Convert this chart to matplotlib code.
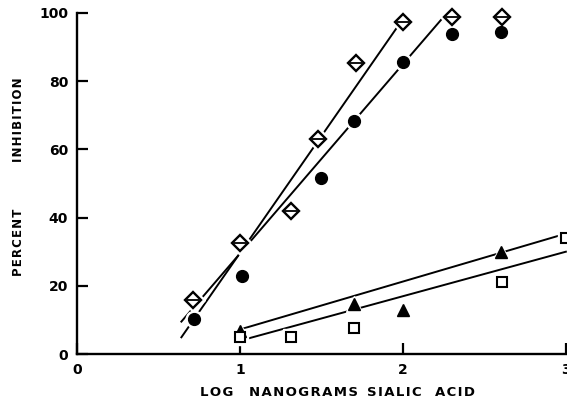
import matplotlib
matplotlib.use("Agg")
import matplotlib.pyplot as plt

# measured points: log ng sialic acid vs percent inhibition
diamond_x = [0.71, 1.00, 1.31, 1.48, 1.71, 2.00, 2.30, 2.61]
diamond_y = [15.8, 32.5, 41.8, 63.0, 85.4, 97.5, 98.8, 98.8]

circle_x = [0.72, 1.01, 1.50, 1.70, 2.00, 2.30, 2.60]
circle_y = [10.2, 23.0, 51.7, 68.4, 85.5, 93.8, 94.5]

triangle_x = [1.00, 1.70, 2.00, 2.60]
triangle_y = [6.7, 14.6, 12.9, 29.8]

square_x = [1.00, 1.31, 1.70, 2.61, 3.00]
square_y = [5.0, 5.0, 7.6, 21.0, 34.0]

# fitted lines (end points)
diamond_fit_x = [0.64, 1.97]
diamond_fit_y = [4.9, 96.2]
circle_fit_x = [0.64, 2.27]
circle_fit_y = [9.5, 100.0]
triangle_fit_x = [1.00, 3.00]
triangle_fit_y = [7.2, 35.3]
square_fit_x = [1.00, 3.00]
square_fit_y = [3.9, 30.0]

x_ticks = [0, 1, 2, 3]
y_ticks = [0, 20, 40, 60, 80, 100]

x_label_words = ["LOG", "NANOGRAMS", "SIALIC", "ACID"]
y_label_words = ["PERCENT", "INHIBITION"]

plt.rcParams["font.family"] = ["DejaVu Sans"]
plt.rcParams["font.weight"] = "bold"


def spaced(word):
    # hair spaces between letters for the wide lettering
    return "\u200a".join(word)


fig = plt.figure(figsize=(5.67, 4.0), dpi=100)
ax = fig.add_axes([0.136, 0.115, 0.862, 0.8525])

for fx, fy in [(diamond_fit_x, diamond_fit_y), (circle_fit_x, circle_fit_y),
               (triangle_fit_x, triangle_fit_y), (square_fit_x, square_fit_y)]:
    ax.plot(fx, fy, color="black", lw=1.4, zorder=2, clip_on=False)

# white halos break the lines around each symbol
halo = dict(ls="none", color="white", zorder=3, clip_on=False)
ax.plot(diamond_x, diamond_y, marker="D", ms=12, **halo)
ax.plot(circle_x, circle_y, marker="o", ms=12, **halo)
ax.plot(triangle_x, triangle_y, marker="^", ms=12, **halo)
ax.plot(square_x, square_y, marker="s", ms=11, **halo)

ax.plot(diamond_x, diamond_y, ls="none", marker="D", ms=8, mfc="white",
        mec="black", mew=1.7, zorder=4, clip_on=False)
ax.plot(diamond_x, diamond_y, ls="none", marker="_", ms=9, mec="black",
        mew=1.3, zorder=5, clip_on=False)
ax.plot(circle_x, circle_y, ls="none", marker="o", ms=8.5, color="black",
        zorder=4, clip_on=False)
ax.plot(triangle_x, triangle_y, ls="none", marker="^", ms=8.5, color="black",
        zorder=4, clip_on=False)
ax.plot(square_x, square_y, ls="none", marker="s", ms=7, mfc="white",
        mec="black", mew=1.5, zorder=4, clip_on=False)

ax.set_xlim(0, 3)
ax.set_ylim(0, 100)
ax.set_xticks(x_ticks)
ax.set_yticks(y_ticks)
ax.tick_params(direction="in", length=8, width=1.6, pad=6.5, labelsize=10)
for lab in ax.get_xticklabels() + ax.get_yticklabels():
    lab.set_fontweight("bold")

for side in ["top", "right"]:
    ax.spines[side].set_visible(False)
for side in ["left", "bottom"]:
    ax.spines[side].set_linewidth(1.7)

# axis titles, one word at a time
for word, xc in zip(x_label_words, [0.383, 0.536, 0.695, 0.802]):
    fig.text(xc, 0.018, spaced(word), ha="center", va="center",
             fontsize=9.5, fontweight="bold")
for word, yc in zip(y_label_words, [0.393, 0.70]):
    fig.text(0.032, yc, spaced(word), ha="center", va="center",
             rotation=90, fontsize=8.5, fontweight="bold")

fig.savefig("out.png", dpi=100)
